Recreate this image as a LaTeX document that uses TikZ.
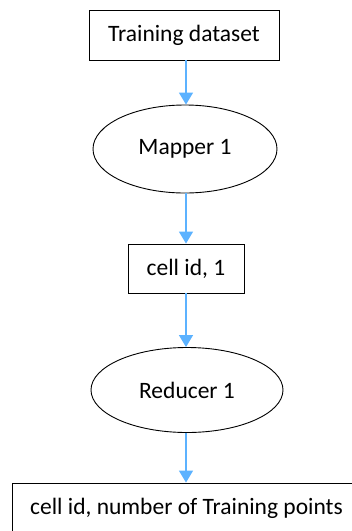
\documentclass[tikz,border=0pt]{standalone}
\usepackage{fontspec}
\setmainfont{Carlito}
\usetikzlibrary{shapes.geometric,arrows.meta}
\definecolor{flowblue}{RGB}{92,178,255}
\begin{document}
\begin{tikzpicture}[x=1pt,y=-1pt,
  every node/.style={font=\fontsize{23.5}{28}\selectfont, inner sep=0pt, line width=0.9pt, draw=black},
  stepbox/.style={rectangle},
  stage/.style={ellipse},
  flow/.style={draw=flowblue, line width=1.4pt, -{Triangle[width=14pt,length=12pt]}}]
  \useasboundingbox (0,0) rectangle (352,531);
  \clip (0,0) rectangle (352,531);
  \node[stepbox, minimum width=190pt, minimum height=50pt] (data) at (184,35) {Training dataset};
  \node[stage, minimum width=184pt, minimum height=88pt] (map) at (185,149) {Mapper 1};
  \node[stepbox, minimum width=116pt, minimum height=49pt] (pair) at (186,268.5) {cell id, 1};
  \node[stage, minimum width=192pt, minimum height=85pt] (red) at (187,390) {Reducer 1};
  \node[stepbox, minimum width=349pt, minimum height=50pt] (out) at (186.5,508) {cell id, number of Training points};
  \draw[flow] (data.south -| 186,0) -- (map.north -| 186,0);
  \draw[flow] (map.south -| 186,0) -- (pair.north -| 186,0);
  \draw[flow] (pair.south -| 186,0) -- (red.north -| 186,0);
  \draw[flow] (red.south -| 186,0) -- (out.north -| 186,0);
\end{tikzpicture}
\end{document}
